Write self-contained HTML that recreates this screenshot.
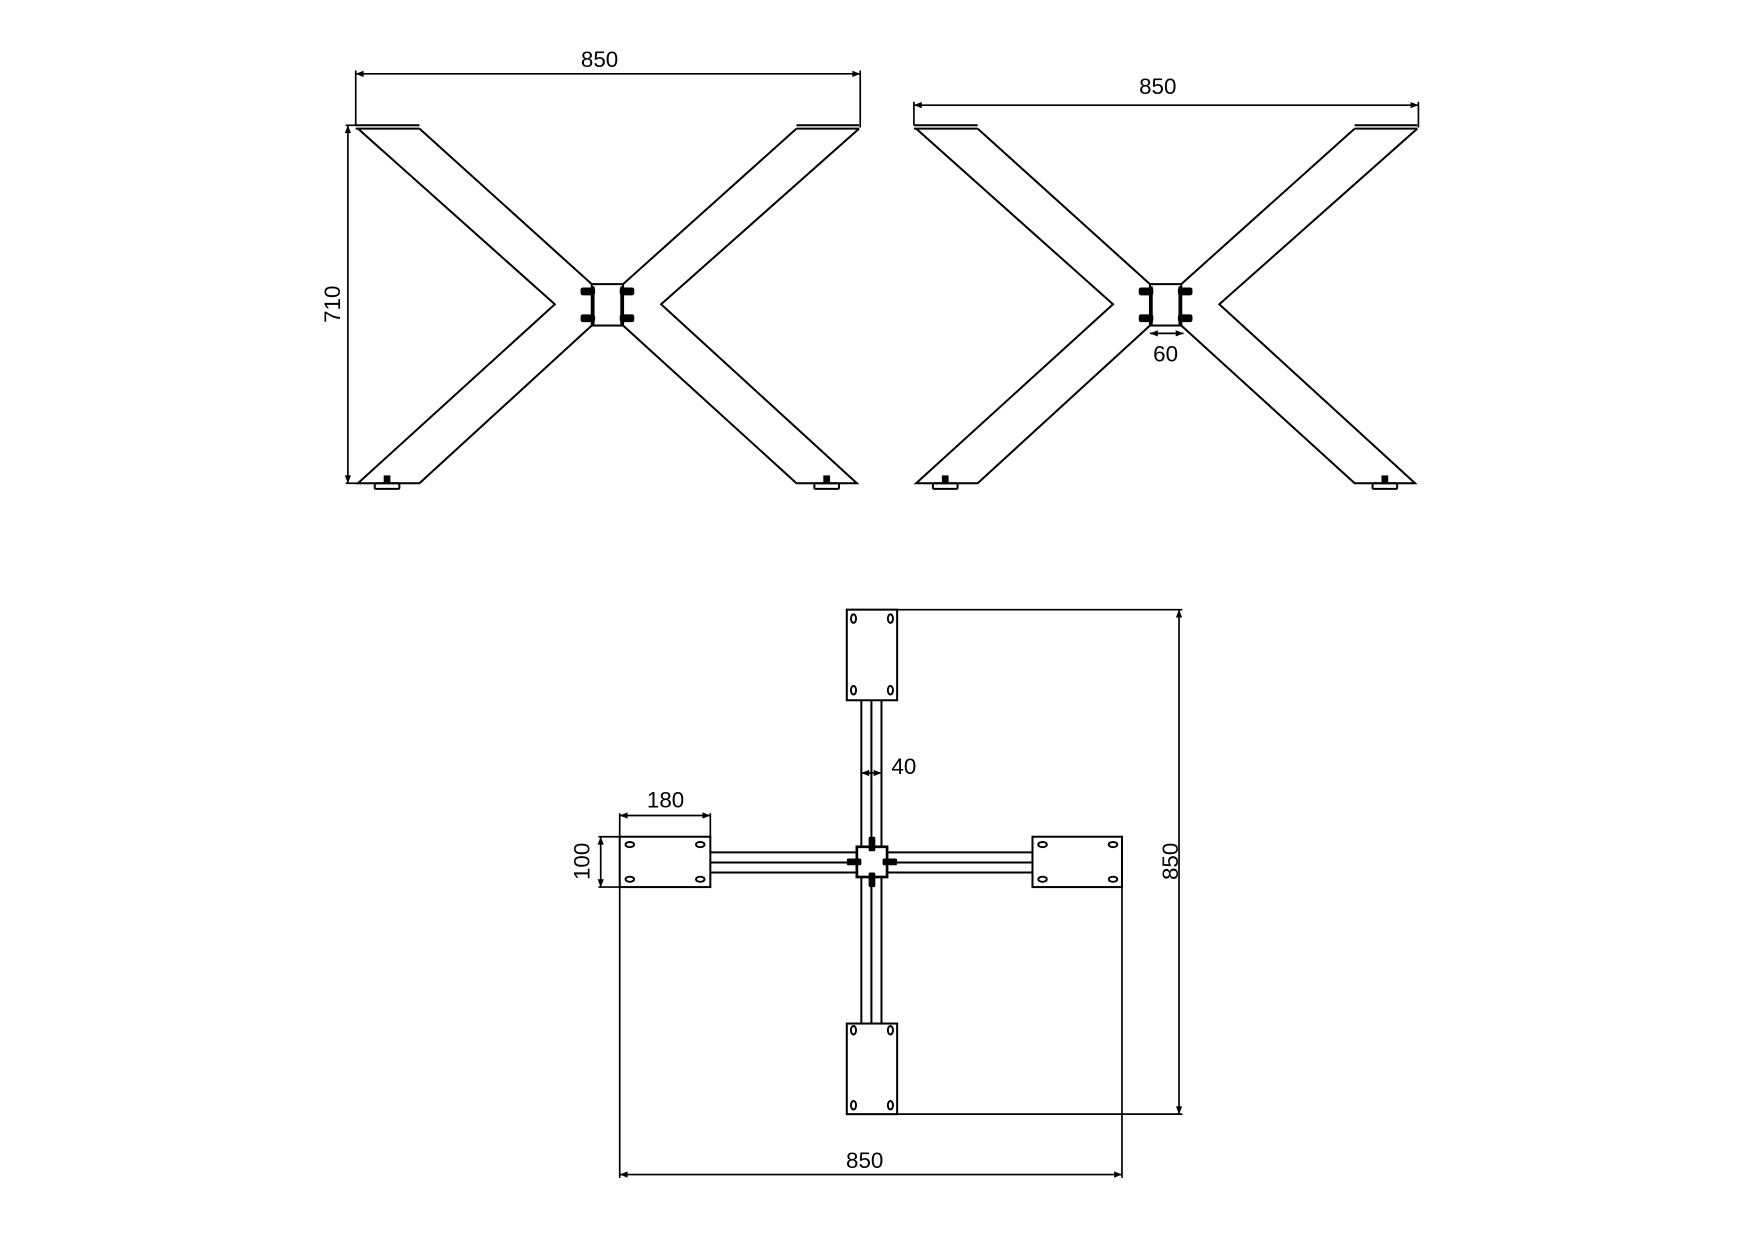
<!DOCTYPE html>
<html><head><meta charset="utf-8"><style>
html,body{margin:0;padding:0;background:#fff;}
svg{display:block}
text{font-family:"Liberation Sans","DejaVu Sans",sans-serif;font-size:20px;fill:#000}
</style></head><body>
<svg width="1754" height="1240" viewBox="0 0 1568 1108.5" xmlns="http://www.w3.org/2000/svg">
<defs>
<marker id="a" viewBox="0 0 10 10" refX="10" refY="5" markerWidth="10" markerHeight="7" orient="auto-start-reverse" markerUnits="userSpaceOnUse"><path d="M0,1 L10,5 L0,9 Z" fill="#000"/></marker>
<g id="leg" fill="none" stroke="#000" stroke-width="1.8">
  <line x1="318" y1="112" x2="375" y2="112"/><line x1="318" y1="115" x2="375" y2="115"/>
  <line x1="712" y1="112" x2="768" y2="112"/><line x1="712" y1="115" x2="768" y2="115"/>
  <polyline points="320,115 496,272 320,432 375,432 529,291"/>
  <polyline points="375,115 529,254"/>
  <polyline points="768,115 591,272 766,432 712,432 557,291"/>
  <polyline points="712,115 557,254"/>
  <rect x="529" y="254" width="28" height="37"/>
  <line x1="530" y1="256" x2="530" y2="290" stroke-width="3"/>
  <line x1="556" y1="256" x2="556" y2="290" stroke-width="3"/>
  <rect x="335" y="432" width="22" height="5" rx="1"/>
  <rect x="728" y="432" width="22" height="5" rx="1"/>
  <g fill="#000" stroke="none">
    <rect x="343" y="425" width="6" height="7"/><rect x="736" y="425" width="6" height="7"/>
    <rect x="519" y="257" width="13" height="7" rx="2"/><rect x="519" y="281" width="13" height="7" rx="2"/>
    <rect x="554" y="257" width="13" height="7" rx="2"/><rect x="554" y="281" width="13" height="7" rx="2"/>
  </g>
</g>
</defs>

<use href="#leg"/>
<use href="#leg" transform="translate(499,0)"/>

<g fill="none" stroke="#000" stroke-width="1.5">
  <line x1="318" y1="66" x2="769" y2="66" marker-start="url(#a)" marker-end="url(#a)"/>
  <line x1="318" y1="63" x2="318" y2="112"/><line x1="769" y1="63" x2="769" y2="114"/>
  <line x1="311" y1="112" x2="311" y2="432" marker-start="url(#a)" marker-end="url(#a)"/>
  <line x1="309" y1="112" x2="320" y2="112"/><line x1="309" y1="432" x2="320" y2="432"/>
  <line x1="817" y1="94" x2="1268" y2="94" marker-start="url(#a)" marker-end="url(#a)"/>
  <line x1="817" y1="91" x2="817" y2="112"/><line x1="1268" y1="91" x2="1268" y2="114"/>
  <line x1="1028" y1="298" x2="1058" y2="298" marker-start="url(#a)" marker-end="url(#a)"/>
</g>
<text x="536" y="60" text-anchor="middle">850</text>
<text x="1035" y="84" text-anchor="middle">850</text>
<text x="1042" y="323" text-anchor="middle">60</text>
<text transform="translate(304,272) rotate(-90)" text-anchor="middle">710</text>

<g fill="none" stroke="#000" stroke-width="1.8">
  <rect x="757" y="545" width="45" height="81"/>
  <rect x="757" y="915" width="45" height="81"/>
  <rect x="554" y="748" width="81" height="45"/>
  <rect x="923" y="748" width="80" height="45"/>
  <line x1="770" y1="626" x2="770" y2="757"/><line x1="779" y1="626" x2="779" y2="757"/><line x1="788" y1="626" x2="788" y2="757"/>
  <line x1="770" y1="784" x2="770" y2="915"/><line x1="779" y1="784" x2="779" y2="915"/><line x1="788" y1="784" x2="788" y2="915"/>
  <line x1="635" y1="762" x2="766" y2="762"/><line x1="635" y1="771" x2="766" y2="771"/><line x1="635" y1="780" x2="766" y2="780"/>
  <line x1="793" y1="762" x2="923" y2="762"/><line x1="793" y1="771" x2="923" y2="771"/><line x1="793" y1="780" x2="923" y2="780"/>
  <rect x="766" y="757" width="27" height="27" stroke-width="2.4"/>
  <g stroke-width="1.7">
    <ellipse cx="763" cy="553" rx="2.3" ry="3.8"/><ellipse cx="796" cy="553" rx="2.3" ry="3.8"/>
    <ellipse cx="763" cy="617" rx="2.3" ry="3.8"/><ellipse cx="796" cy="617" rx="2.3" ry="3.8"/>
    <ellipse cx="763" cy="921" rx="2.3" ry="3.8"/><ellipse cx="796" cy="921" rx="2.3" ry="3.8"/>
    <ellipse cx="763" cy="988" rx="2.3" ry="3.8"/><ellipse cx="796" cy="988" rx="2.3" ry="3.8"/>
    <ellipse cx="563" cy="755" rx="3.8" ry="2.3"/><ellipse cx="626" cy="755" rx="3.8" ry="2.3"/>
    <ellipse cx="563" cy="786" rx="3.8" ry="2.3"/><ellipse cx="626" cy="786" rx="3.8" ry="2.3"/>
    <ellipse cx="932" cy="755" rx="3.8" ry="2.3"/><ellipse cx="995" cy="755" rx="3.8" ry="2.3"/>
    <ellipse cx="932" cy="786" rx="3.8" ry="2.3"/><ellipse cx="995" cy="786" rx="3.8" ry="2.3"/>
  </g>
</g>
<g fill="#000">
  <rect x="776.5" y="748" width="6" height="13" rx="1.5"/>
  <rect x="776.5" y="780" width="6" height="13" rx="1.5"/>
  <rect x="757" y="767.5" width="13" height="6" rx="1.5"/>
  <rect x="789" y="767.5" width="13" height="6" rx="1.5"/>
</g>
<g fill="none" stroke="#000" stroke-width="1.5">
  <line x1="802" y1="545" x2="1057" y2="545"/><line x1="802" y1="996" x2="1057" y2="996"/>
  <line x1="1054" y1="545" x2="1054" y2="996" marker-start="url(#a)" marker-end="url(#a)"/>
  <line x1="554" y1="793" x2="554" y2="1053"/><line x1="1003" y1="793" x2="1003" y2="1053"/>
  <line x1="554" y1="1050" x2="1003" y2="1050" marker-start="url(#a)" marker-end="url(#a)"/>
  <line x1="554" y1="729" x2="635" y2="729" marker-start="url(#a)" marker-end="url(#a)"/>
  <line x1="554" y1="727" x2="554" y2="748"/><line x1="635" y1="727" x2="635" y2="748"/>
  <line x1="537" y1="748" x2="537" y2="793" marker-start="url(#a)" marker-end="url(#a)"/>
  <line x1="535" y1="748" x2="554" y2="748"/><line x1="535" y1="793" x2="554" y2="793"/>
  <line x1="770" y1="691" x2="788" y2="691" marker-start="url(#a)" marker-end="url(#a)"/>
</g>
<text x="773" y="1044" text-anchor="middle">850</text>
<text x="595" y="722" text-anchor="middle">180</text>
<text x="808" y="692" text-anchor="middle">40</text>
<text transform="translate(527,770) rotate(-90)" text-anchor="middle">100</text>
<text transform="translate(1053,770) rotate(-90)" text-anchor="middle">850</text>
</svg>
</body></html>
